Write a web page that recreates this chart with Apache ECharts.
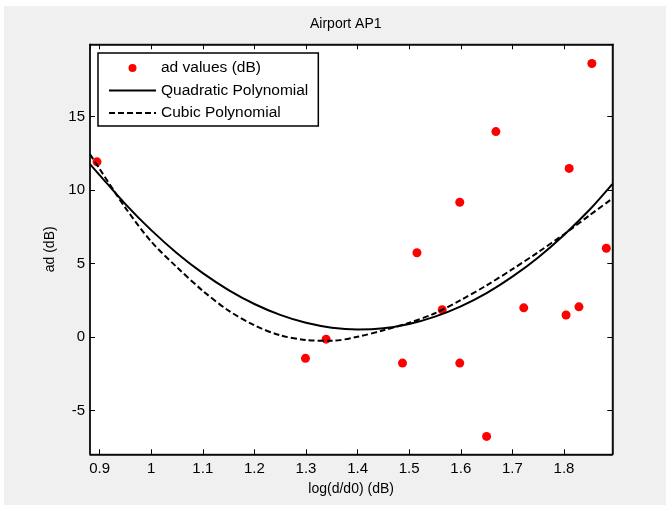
<!DOCTYPE html>
<html>
<head>
<meta charset="utf-8">
<script src="https://cdn.jsdelivr.net/npm/echarts@6/dist/echarts.min.js"></script>
<style>
html, body { margin: 0; padding: 0; background: #ffffff; }
#chart { width: 670px; height: 508px; }
</style>
</head>
<body>
<div id="chart"></div>
<script>
// Measured data points
var pointX = [0.895, 1.299, 1.339, 1.487, 1.515, 1.564, 1.598, 1.598, 1.650, 1.668, 1.722, 1.804, 1.810, 1.829, 1.854, 1.882];
var pointY = [11.93, -1.45, -0.14, -1.77, 5.74, 1.86, 9.18, -1.77, -6.76, 13.99, 1.99, 1.50, 11.48, 2.06, 18.62, 6.05];

// Fitted curves, values at these x positions
var fitX = [0.8814, 0.90, 0.95, 1.00, 1.05, 1.10, 1.15, 1.20, 1.25, 1.30, 1.35, 1.40, 1.45, 1.50, 1.55, 1.60, 1.65, 1.70, 1.75, 1.80, 1.85, 1.8936];
var quadY = [11.77, 11.03, 9.05, 7.28, 5.71, 4.35, 3.20, 2.25, 1.51, 0.97, 0.64, 0.52, 0.60, 0.89, 1.39, 2.09, 2.99, 4.11, 5.42, 6.95, 8.68, 10.41];
var cubicY = [12.45, 11.45, 8.80, 6.50, 4.75, 3.15, 1.80, 0.80, 0.12, -0.20, -0.25, 0.02, 0.46, 0.97, 1.62, 2.52, 3.52, 4.62, 5.78, 7.00, 8.30, 9.43];

var seriesNames = ['ad values (dB)', 'Quadratic Polynomial', 'Cubic Polynomial'];
var titleText = 'Airport AP1';
var xName = 'log(d/d0) (dB)';
var yName = 'ad (dB)';

function pairs(xs, ys) { return xs.map(function (x, i) { return [x, ys[i]]; }); }

var FONT = '"Liberation Sans", Arial, Helvetica, sans-serif';
var X_MIN = 0.8814, X_MAX = 1.8936, Y_MIN = -7.98, Y_MAX = 19.93;

function axisBase(extra) {
  var a = {
    type: 'value',
    axisLine: { show: true, onZero: false, lineStyle: { color: '#000', width: 1.5 } },
    axisTick: { show: true, inside: true, length: 5, lineStyle: { color: '#000', width: 1 } },
    splitLine: { show: false },
    axisLabel: { show: true, color: '#000', fontSize: 15, fontFamily: FONT, showMinLabel: false, showMaxLabel: false }
  };
  for (var k in extra) a[k] = extra[k];
  return a;
}

var chart = echarts.init(document.getElementById('chart'), null, { renderer: 'canvas' });
chart.setOption({
  animation: false,
  backgroundColor: '#ffffff',
  graphic: [{
    type: 'rect', z: -100, silent: true,
    shape: { x: 4, y: 6, width: 662, height: 499 },
    style: { fill: '#f0f0f0' }
  }],
  title: {
    text: titleText, left: 310, top: 17, padding: 0,
    textStyle: { fontSize: 14, fontWeight: 'normal', color: '#000', fontFamily: FONT }
  },
  grid: {
    left: 90, right: 57.7, top: 44.3, bottom: 53.7,
    show: true, backgroundColor: '#ffffff', borderColor: '#000', borderWidth: 1
  },
  legend: {
    orient: 'vertical', left: 98, top: 53,
    backgroundColor: '#ffffff', borderColor: '#000', borderWidth: 1.5,
    padding: [7, 10, 5, 10],
    itemWidth: 47, itemHeight: 8, itemGap: 6.5,
    textStyle: { fontSize: 15.5, color: '#000', fontFamily: FONT, lineHeight: 15 },
    data: [
      { name: seriesNames[0] },
      { name: seriesNames[1], itemStyle: { opacity: 0 } },
      { name: seriesNames[2], itemStyle: { opacity: 0 } }
    ]
  },
  xAxis: [
    axisBase({ min: X_MIN, max: X_MAX, minInterval: 0.1, maxInterval: 0.1, position: 'bottom',
      name: xName, nameLocation: 'middle', nameGap: 28,
      nameTextStyle: { fontSize: 14, color: '#000', fontFamily: FONT },
      axisLabel: { show: true, color: '#000', fontSize: 15, fontFamily: FONT, margin: 7, showMinLabel: false, showMaxLabel: false,
        formatter: function (v) { return String(Math.round(v * 10) / 10); } } }),
    axisBase({ min: X_MIN, max: X_MAX, minInterval: 0.1, maxInterval: 0.1, position: 'top',
      axisLabel: { show: false } })
  ],
  yAxis: [
    axisBase({ min: Y_MIN, max: Y_MAX, minInterval: 5, maxInterval: 5, position: 'left',
      name: yName, nameLocation: 'middle', nameGap: 31, nameRotate: 90,
      nameTextStyle: { fontSize: 14, color: '#000', fontFamily: FONT },
      axisLabel: { show: true, color: '#000', fontSize: 15, fontFamily: FONT, margin: 5, showMinLabel: false, showMaxLabel: false } }),
    axisBase({ min: Y_MIN, max: Y_MAX, minInterval: 5, maxInterval: 5, position: 'right',
      axisLabel: { show: false } })
  ],
  series: [
    {
      name: seriesNames[0], type: 'scatter', xAxisIndex: 0, yAxisIndex: 0,
      symbol: 'circle', symbolSize: 9,
      itemStyle: { color: '#ff0000', opacity: 1 },
      data: pairs(pointX, pointY), z: 2
    },
    {
      name: seriesNames[1], type: 'line', xAxisIndex: 0, yAxisIndex: 0,
      symbol: 'none', smooth: 0.3,
      lineStyle: { color: '#000', width: 2, type: 'solid' },
      itemStyle: { color: '#000', opacity: 0 },
      data: pairs(fitX, quadY), z: 3
    },
    {
      name: seriesNames[2], type: 'line', xAxisIndex: 0, yAxisIndex: 0,
      symbol: 'none', smooth: 0.3,
      lineStyle: { color: '#000', width: 2, type: [6, 3] },
      itemStyle: { color: '#000', opacity: 0 },
      data: pairs(fitX, cubicY), z: 3
    }
  ]
});
</script>
</body>
</html>
